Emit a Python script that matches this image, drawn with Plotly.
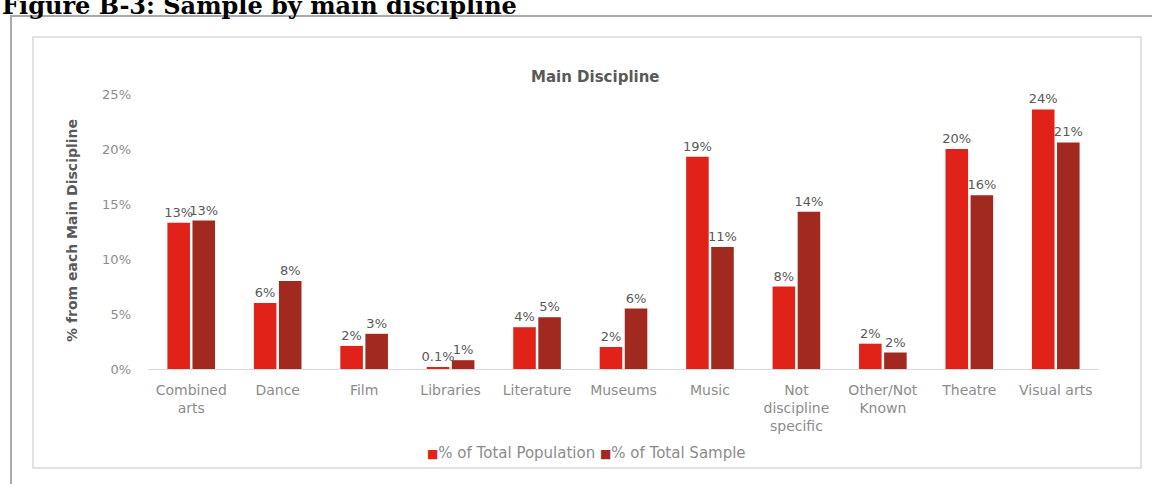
import plotly.graph_objects as go

categories = ["Combined<br>arts", "Dance", "Film", "Libraries", "Literature", "Museums",
              "Music", "Not<br>discipline<br>specific", "Other/Not<br>Known", "Theatre", "Visual arts"]
pop_values = [13.3, 6.0, 2.1, 0.1, 3.8, 2.0, 19.3, 7.5, 2.3, 20.0, 23.6]
sample_values = [13.5, 8.0, 3.2, 0.8, 4.7, 5.5, 11.1, 14.3, 1.5, 15.8, 20.6]
pop_labels = ["13%", "6%", "2%", "0.1%", "4%", "2%", "19%", "8%", "2%", "20%", "24%"]
sample_labels = ["13%", "8%", "3%", "1%", "5%", "6%", "11%", "14%", "2%", "16%", "21%"]
series_names = ["% of Total Population", "% of Total Sample"]
y_ticks = [0, 5, 10, 15, 20, 25]
y_tick_text = ["0%", "5%", "10%", "15%", "20%", "25%"]

W, H = 1152, 484
L, R, T, B = 148, 1099, 94, 369
PW, PH = R - L, B - T


def xp(px):
    return (px - L) / PW


def yp(py):
    return (B - py) / PH


POP_COLOR = "#E02219"
SAMPLE_COLOR = "#A2291F"
FONT = "DejaVu Sans"
LABEL_COLOR = "#595959"
TICK_COLOR = "#8C8C8C"

fig = go.Figure()
fig.add_trace(go.Bar(
    x=categories, y=pop_values, name=series_names[0],
    marker=dict(color=POP_COLOR, line=dict(width=0)),
    text=pop_labels, textposition="outside", cliponaxis=False, constraintext="none",
    textfont=dict(family=FONT, size=13, color=LABEL_COLOR),
))
fig.add_trace(go.Bar(
    x=categories, y=sample_values, name=series_names[1],
    marker=dict(color=SAMPLE_COLOR, line=dict(width=0)),
    text=sample_labels, textposition="outside", cliponaxis=False, constraintext="none",
    textfont=dict(family=FONT, size=13, color=LABEL_COLOR),
))

legend_text = (f"<span style='color:{POP_COLOR};font-size:12px'>■</span>{series_names[0]} "
               f"<span style='color:{SAMPLE_COLOR};font-size:12px'>■</span>{series_names[1]}")

fig.update_layout(
    width=W, height=H,
    margin=dict(l=L, r=W - R, t=T, b=H - B, pad=0),
    paper_bgcolor="white", plot_bgcolor="white",
    barmode="group", bargap=0.42, bargroupgap=0.1,
    font=dict(family=FONT, color=TICK_COLOR),
    showlegend=False,
    xaxis=dict(showgrid=False, showline=True, linecolor="#D9D9D9", linewidth=1,
               ticks="", tickfont=dict(family=FONT, size=14, color=TICK_COLOR),
               ticklabelstandoff=8, fixedrange=True),
    yaxis=dict(range=[0, 25], tickvals=y_ticks, ticktext=y_tick_text, showgrid=False,
               showline=False, zeroline=False, ticks="",
               tickfont=dict(family=FONT, size=13, color=TICK_COLOR),
               ticklabelstandoff=16, fixedrange=True),
    shapes=[
        dict(type="rect", xref="paper", yref="paper",
             x0=xp(11), x1=xp(1200), y0=yp(16), y1=yp(520),
             line=dict(color="#AAAAAA", width=2), fillcolor="white", layer="below"),
        dict(type="rect", xref="paper", yref="paper",
             x0=xp(33), x1=xp(1141), y0=yp(37), y1=yp(468),
             line=dict(color="#D9D9D9", width=1.5), fillcolor="white", layer="below"),
    ],
    annotations=[
        dict(text="<b>Figure B-3: Sample by main discipline</b>", xref="paper", yref="paper",
             x=xp(0), y=yp(22), xanchor="left", yanchor="bottom", showarrow=False,
             font=dict(family="DejaVu Serif", size=24, color="black")),
        dict(text="<b>Main Discipline</b>", xref="paper", yref="paper",
             x=xp(595), y=yp(77), xanchor="center", yanchor="middle", showarrow=False,
             font=dict(family=FONT, size=15, color=LABEL_COLOR)),
        dict(text="<b>% from each Main Discipline</b>", xref="paper", yref="paper",
             x=xp(72), y=yp(231), xanchor="center", yanchor="middle", showarrow=False,
             textangle=-90, font=dict(family=FONT, size=14, color=LABEL_COLOR)),
        dict(text=legend_text, xref="paper", yref="paper",
             x=xp(586), y=yp(453), xanchor="center", yanchor="middle", showarrow=False,
             font=dict(family=FONT, size=15, color=TICK_COLOR)),
    ],
)

fig.write_html("out.html", config={"displayModeBar": False},
               post_script="document.body.style.margin='0';document.body.style.overflow='hidden';")
